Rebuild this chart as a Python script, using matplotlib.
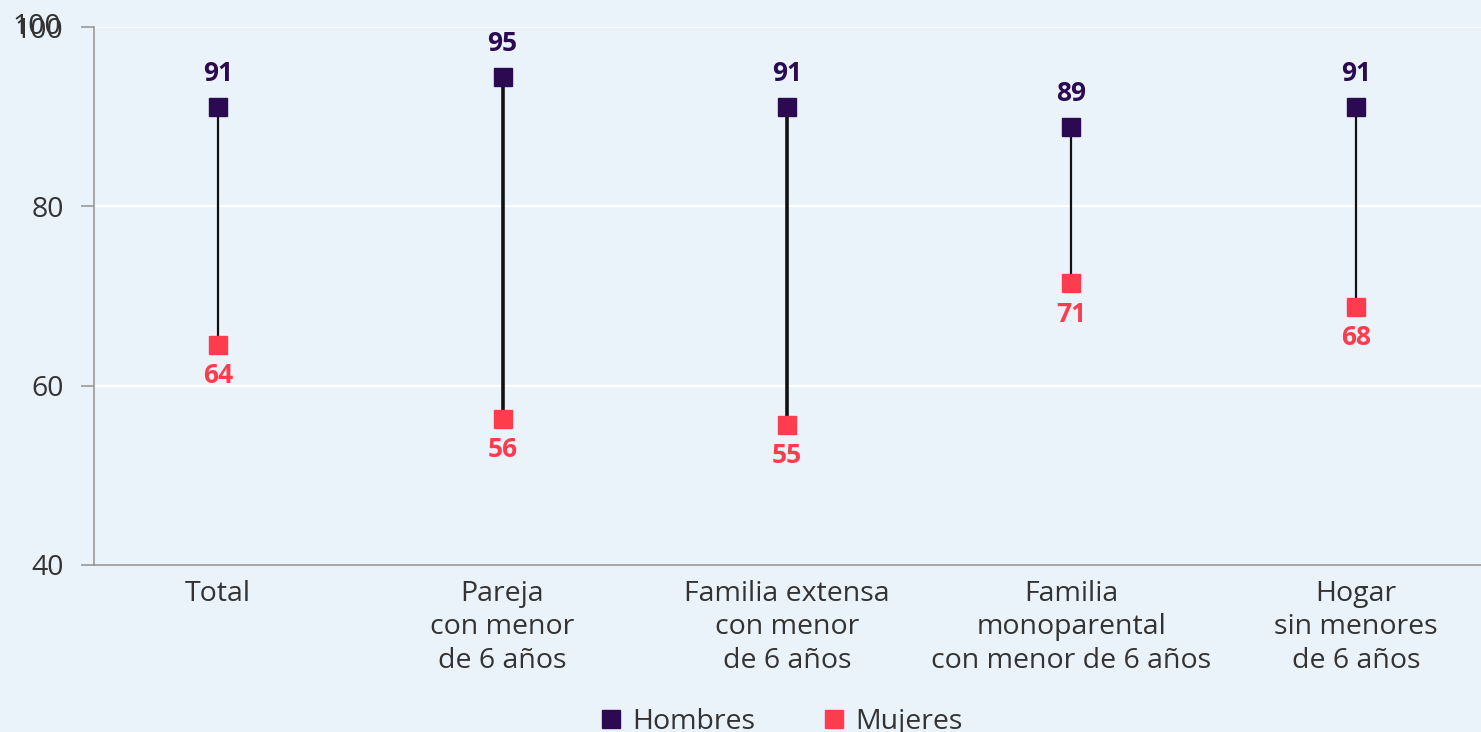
import matplotlib.pyplot as plt
from matplotlib.lines import Line2D
from matplotlib.transforms import offset_copy

plt.rcParams['font.family'] = ['Open Sans', 'Noto Sans', 'DejaVu Sans']

# data
categorias = ['Total', 'Pareja\ncon menor\nde 6 años', 'Familia extensa\ncon menor\nde 6 años',
              'Familia\nmonoparental\ncon menor de 6 años', 'Hogar\nsin menores\nde 6 años']
hombres = [91.1, 94.4, 91.1, 88.9, 91.1]
mujeres = [64.5, 56.3, 55.6, 71.4, 68.8]
hombres_txt = ['91', '95', '91', '89', '91']
mujeres_txt = ['64', '56', '55', '71', '68']
grosor = [1.6, 2.6, 2.6, 1.6, 1.6]
yticks = [40, 60, 80, 100]

c_h = '#2b0a52'
c_m = '#ff3b4e'
bg = '#ebf3fa'
txt = '#333333'
fs = 20.5
fs_val = 19

fig = plt.figure(figsize=(14.81, 7.32), dpi=100, facecolor=bg)
ax = fig.add_axes([0.0635, 0.2282, 0.9365, 0.7348], facecolor=bg)

x = list(range(len(categorias)))
for i in x:
    ax.plot([i, i], [mujeres[i], hombres[i]], color='#111111', lw=grosor[i], zorder=2)
ax.plot(x, hombres, 's', ms=13, color=c_h, ls='none', zorder=3)
ax.plot(x, mujeres, 's', ms=13, color=c_m, ls='none', zorder=3)

for i in x:
    ax.annotate(hombres_txt[i], (i, hombres[i]), xytext=(0, 24), textcoords='offset points',
                ha='center', va='center', fontsize=fs_val, fontweight='bold', color=c_h)
    ax.annotate(mujeres_txt[i], (i, mujeres[i]), xytext=(0, -22), textcoords='offset points',
                ha='center', va='center', fontsize=fs_val, fontweight='bold', color=c_m)

ax.set_xlim(-0.436, 4.44)
ax.set_ylim(40, 100)
ax.set_yticks(yticks)
ax.set_yticklabels([str(v) for v in yticks])
ax.set_xticks(x)
ax.set_xticklabels(categorias, linespacing=1.25)

# doubled "100" as in the original
tr = offset_copy(ax.get_yaxis_transform(), fig=fig, x=-23.5, y=0, units='points')
ax.text(0.0, 100, '100', transform=tr, ha='right', va='center', fontsize=fs, color=txt)

for v in [60, 80, 100]:
    ax.axhline(v, color='white', lw=1.6, zorder=1)

ax.tick_params(axis='y', length=9.4, width=1.2, color='#999999', labelsize=fs,
               labelcolor=txt, pad=12.5)
ax.tick_params(axis='x', length=0, labelsize=fs, labelcolor=txt, pad=11)
for s in ['top', 'right']:
    ax.spines[s].set_visible(False)
for s in ['left', 'bottom']:
    ax.spines[s].set_color('#999999')
    ax.spines[s].set_linewidth(1.2)

handles = [Line2D([], [], marker='s', ls='none', ms=13, color=c_h, label='Hombres'),
           Line2D([], [], marker='s', ls='none', ms=13, color=c_m, label='Mujeres')]
fig.legend(handles=handles, loc='center', bbox_to_anchor=(0.524, 0.014), ncol=2, frameon=False,
           fontsize=fs, labelcolor=txt, handletextpad=0.0, columnspacing=2.0,
           handlelength=1.5)

fig.savefig('out.png', dpi=100, facecolor=bg)
